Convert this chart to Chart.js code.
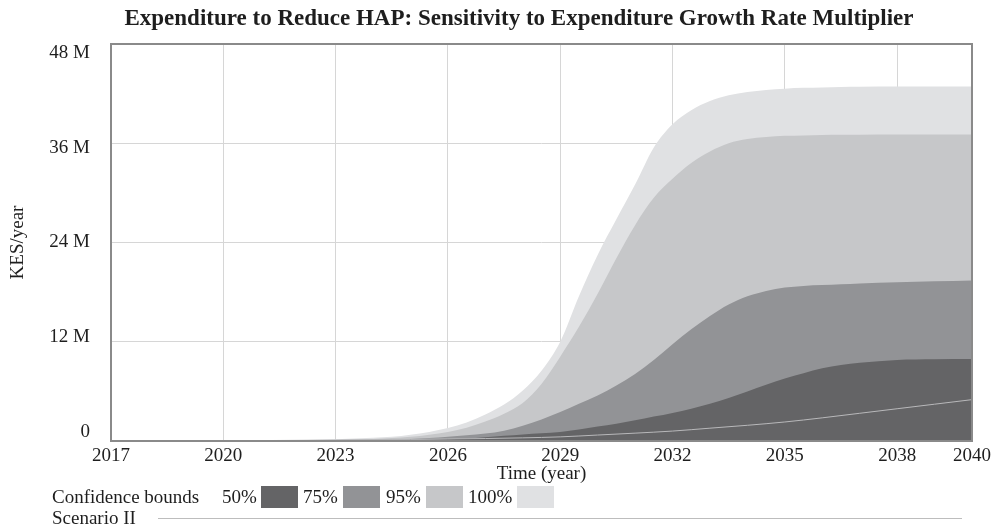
<!DOCTYPE html>
<html><head><meta charset="utf-8">
<script src="https://cdn.jsdelivr.net/npm/chart.js@4.4.1/dist/chart.umd.min.js"></script>
<style>
html,body{margin:0;padding:0;background:#fff;}
#wrap{position:relative;width:995px;height:526px;font-family:"Liberation Serif","Times New Roman",serif;color:#1e1e1e;overflow:hidden;}
#c{position:absolute;left:0;top:0;}
.t{position:absolute;white-space:nowrap;font-size:19px;line-height:22px;}
.box{position:absolute;width:37px;height:22px;}
</style></head><body>
<div id="wrap">
<canvas id="c" width="995" height="526" style="width:995px;height:526px"></canvas>
<div class="t" id="title" style="left:0;width:1038px;top:5px;text-align:center;font-weight:bold;font-size:23px;line-height:26px;"></div>
<div id="legend"></div>
</div>
<script>
// ---- data (values in millions of KES/year) ----
const bandTimes = [2017,2018,2019,2020,2021,2022,2023,2024,2024.5,2025,2025.5,2026,2026.5,2027,2027.5,2028,2028.5,2029,2029.5,2030,2030.5,2031,2031.5,2032,2032.5,2033,2033.5,2034,2034.5,2035,2035.5,2036,2036.5,2037,2038,2039,2040];
const bound100 = [0,0.01,0.02,0.03,0.06,0.1,0.2,0.38,0.5,0.75,1.1,1.57,2.25,3.2,4.4,6.1,8.5,12.0,17.5,22.5,26.8,31.0,35.5,38.3,40.0,41.1,41.8,42.2,42.45,42.6,42.7,42.75,42.8,42.82,42.85,42.85,42.85];
const bound95  = [0,0.005,0.01,0.02,0.04,0.06,0.12,0.25,0.35,0.5,0.75,1.1,1.6,2.35,3.3,4.6,6.9,10.2,13.8,17.8,22.1,26.1,29.4,31.7,33.6,35.0,36.0,36.5,36.75,36.9,36.95,37.0,37.02,37.04,37.05,37.05,37.05];
const bound75  = [0,0,0.005,0.01,0.02,0.04,0.06,0.12,0.18,0.25,0.35,0.5,0.7,0.9,1.25,1.85,2.6,3.5,4.5,5.5,6.7,8.1,9.8,11.7,13.5,15.1,16.5,17.5,18.15,18.55,18.75,18.85,18.95,19.05,19.2,19.3,19.4];
const bound50  = [0,0,0,0.005,0.01,0.02,0.03,0.05,0.07,0.1,0.15,0.2,0.3,0.45,0.62,0.8,0.95,1.1,1.4,1.75,2.1,2.5,2.95,3.4,3.9,4.5,5.2,6.0,6.8,7.55,8.2,8.8,9.2,9.45,9.8,9.88,9.9];
const scenarioYears = [2017,2018,2019,2020,2021,2022,2023,2024,2025,2026,2027,2028,2029,2030,2031,2032,2033,2034,2035,2036,2037,2038,2039,2040];
const scenarioII = [0,0.01,0.02,0.03,0.05,0.08,0.12,0.16,0.2,0.25,0.3,0.38,0.5,0.72,0.95,1.2,1.55,1.9,2.3,2.8,3.35,3.9,4.45,5.0];
const xTickValues = [2017,2020,2023,2026,2029,2032,2035,2038,2040];
const yTickValues = [0,12,24,36,48];
const yTickLabels = ['0','12 M','24 M','36 M','48 M'];
const bandLabels = ['50%','75%','95%','100%'];
const titleText = 'Expenditure to Reduce HAP: Sensitivity to Expenditure Growth Rate Multiplier';
const xTitle = 'Time (year)';
const yTitle = 'KES/year';
const legendTitle = 'Confidence bounds';
const lineLabel = 'Scenario II';

// ---- styles ----
const FONT = '"Liberation Serif","Times New Roman",serif';
const FS = 19;
const TXT = '#1e1e1e';
const bandColors = ['#646466','#929396','#c6c7c9','#e0e1e3'];
const lineColor = '#b8b8ba';
const gridColor = '#d6d6d6';

document.getElementById('title').textContent = titleText;

const pts = (xs,arr) => xs.map((x,i)=>({x:x,y:arr[i]}));
const bands = [bound50,bound75,bound95,bound100];

const datasets = [{
  label:lineLabel, data:pts(scenarioYears,scenarioII), borderColor:lineColor, borderWidth:1,
  pointRadius:0, fill:false, cubicInterpolationMode:'monotone'
}];
bands.forEach((b,i)=>datasets.push({
  label:bandLabels[i], data:pts(bandTimes,b), backgroundColor:bandColors[i], borderColor:bandColors[i],
  borderWidth:0, pointRadius:0, fill:'origin', cubicInterpolationMode:'monotone'
}));

const frame = {
  id:'frame',
  afterDraw(chart){
    const a = chart.chartArea, ctx = chart.ctx;
    ctx.save();
    ctx.strokeStyle = '#8a8a8a'; ctx.lineWidth = 2;
    ctx.strokeRect(a.left, a.top, a.right-a.left, a.bottom-a.top);
    ctx.restore();
  }
};

new Chart(document.getElementById('c'), {
  type:'line',
  data:{datasets},
  plugins:[frame],
  options:{
    responsive:false, animation:false, devicePixelRatio:1,
    layout:{padding:{top:44,right:20,bottom:35,left:0}},
    plugins:{legend:{display:false}, title:{display:false}, tooltip:{enabled:false}},
    scales:{
      x:{
        type:'linear', min:2017, max:2040, z:1,
        afterBuildTicks:s=>{s.ticks = xTickValues.map(v=>({value:v}));},
        afterFit:s=>{s.height = 50;},
        ticks:{callback:v=>String(v), font:{family:FONT,size:FS}, color:TXT, padding:4, maxRotation:0, autoSkip:false},
        grid:{color:gridColor, drawTicks:false, lineWidth:1},
        border:{display:false},
        title:{display:true, text:xTitle, font:{family:FONT,size:FS}, color:TXT, padding:{top:0,bottom:6}}
      },
      y:{
        position:'left', min:0, max:48, z:1,
        afterBuildTicks:s=>{s.ticks = yTickValues.map(v=>({value:v}));},
        afterFit:s=>{s.width = 0;},
        ticks:{display:false},
        grid:{color:gridColor, drawTicks:false, lineWidth:1},
        border:{display:false}
      },
      y2:{
        position:'left', min:-1.14, max:49.14,
        afterBuildTicks:s=>{s.ticks = yTickValues.map(v=>({value:v}));},
        afterFit:s=>{s.width = 111;},
        ticks:{callback:(v,i)=>yTickLabels[i], font:{family:FONT,size:FS}, color:TXT, padding:21},
        grid:{display:false, drawTicks:false},
        border:{display:false},
        title:{display:true, text:yTitle, font:{family:FONT,size:FS}, color:TXT, padding:{top:7,bottom:0}}
      }
    }
  }
});

// ---- legend (HTML text) ----
const lg = document.getElementById('legend');
function addText(txt,left,top){const d=document.createElement('div');d.className='t';d.style.left=left+'px';d.style.top=top+'px';d.textContent=txt;lg.appendChild(d);}
addText(legendTitle,52,486);
const labelX=[222,303,386,468], boxX=[261,343,426,517];
bandLabels.forEach((l,i)=>{
  addText(l,labelX[i],486);
  const b=document.createElement('div');b.className='box';b.style.left=boxX[i]+'px';b.style.top='486px';b.style.background=bandColors[i];lg.appendChild(b);
});
addText(lineLabel,52,507);
const ln=document.createElement('div');ln.style.cssText='position:absolute;left:158px;top:518px;width:804px;height:1px;background:#bdbdbd;';lg.appendChild(ln);
</script>
</body></html>
